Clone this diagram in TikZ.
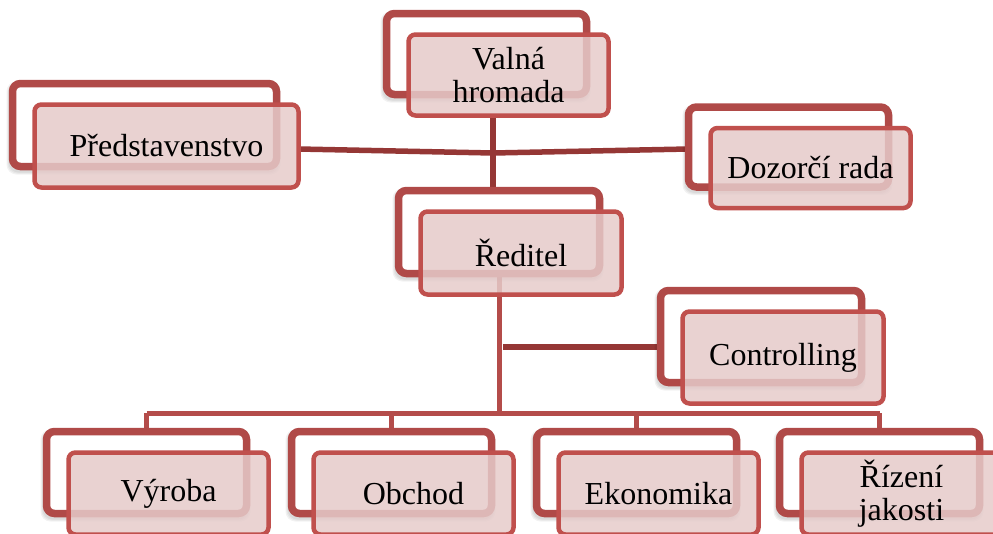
\documentclass[tikz,border=0pt]{standalone}
\usepackage{fontspec}
\setmainfont{Liberation Serif}
\definecolor{frameRed}{HTML}{B04A48}
\definecolor{boxRed}{HTML}{C0504D}
\definecolor{boxFill}{HTML}{E6CBCA}
\definecolor{connDark}{HTML}{953735}
\definecolor{busRed}{HTML}{B44C4A}
\pgfdeclarelayer{wires}
\pgfsetlayers{wires,main}

\tikzset{
  backframe/.style={draw=frameRed, line width=7.5pt, fill=white,
    rounded corners=8pt, inner sep=0pt, outer sep=0pt},
  frontbox/.style={draw=boxRed, line width=4.5pt, fill=boxFill,
    fill opacity=0.85, text opacity=1, rounded corners=7pt,
    inner sep=0pt, outer sep=0pt, align=center,
    font=\fontsize{32}{33}\selectfont},
  softshadow/.style={fill=black, fill opacity=0.05, rounded corners=10pt,
    inner sep=0pt, outer sep=0pt},
  wiredark/.style={draw=connDark, line width=5.5pt},
  wirebus/.style={draw=busRed, line width=5pt},
}

% #1 name, #2/#3 centre of the rear frame, #4 width, #5 height, #6 label
\newcommand\orgunit[6]{%
  \foreach \s in {0,2,4}
    \node[softshadow, minimum width={#4pt+\s pt+6pt},
          minimum height={#5pt+\s pt+6pt}] at (#2-1,#3+3) {};
  \node[backframe, minimum width=#4pt, minimum height=#5pt] (#1B) at (#2,#3) {};
  \node[frontbox, minimum width=#4pt, minimum height=#5pt] (#1) at (#2+22,#3+21) {#6};
}

\begin{document}
\begin{tikzpicture}[x=1pt,y=-1pt]
  \useasboundingbox (0,0) rectangle (993,533);
  \clip (0,0) rectangle (993,533);

  \orgunit{valna}{486.5}{54}{200}{81}{Valná\\hromada}
  \orgunit{pred}{144.5}{125}{264}{83}{Představenstvo}
  \orgunit{dozor}{788.5}{147}{200}{80}{Dozorčí rada}
  \orgunit{reditel}{499}{232}{201}{83}{Ředitel}
  \orgunit{control}{761}{336.5}{201}{92}{Controlling}
  \orgunit{vyroba}{146.5}{472.5}{200}{82}{Výroba}
  \orgunit{obchod}{391.5}{472.5}{200}{82}{Obchod}
  \orgunit{ekonom}{636.5}{472.5}{200}{82}{Ekonomika}
  \orgunit{rizeni}{879.5}{472.5}{200}{82}{Řízení\\jakosti}

  \coordinate (trunk) at (493,0);
  \coordinate (hub) at (493,153);
  \coordinate (cjoin) at (503,347);
  \coordinate (bus) at (0,413);

  \begin{pgfonlayer}{wires}
    % board level
    \draw[wiredark] (valna.south -| trunk) -- (reditelB.north -| trunk);
    \draw[wiredark] ([yshift=-3pt]pred.east) -- (hub) -- ([yshift=-2pt]dozorB.west);
    % director down to the departments
    \draw[wirebus] (reditelB.south) -- (reditelB.south |- bus);
    \draw[wiredark] (cjoin) -- (controlB.west |- cjoin);
    \draw[wirebus] (vyrobaB.north |- bus) -- (rizeniB.north |- bus);
    \foreach \d in {vyroba,obchod,ekonom,rizeni}
      \draw[wirebus] (\d B.north |- bus) -- (\d B.north);
  \end{pgfonlayer}
\end{tikzpicture}
\end{document}
